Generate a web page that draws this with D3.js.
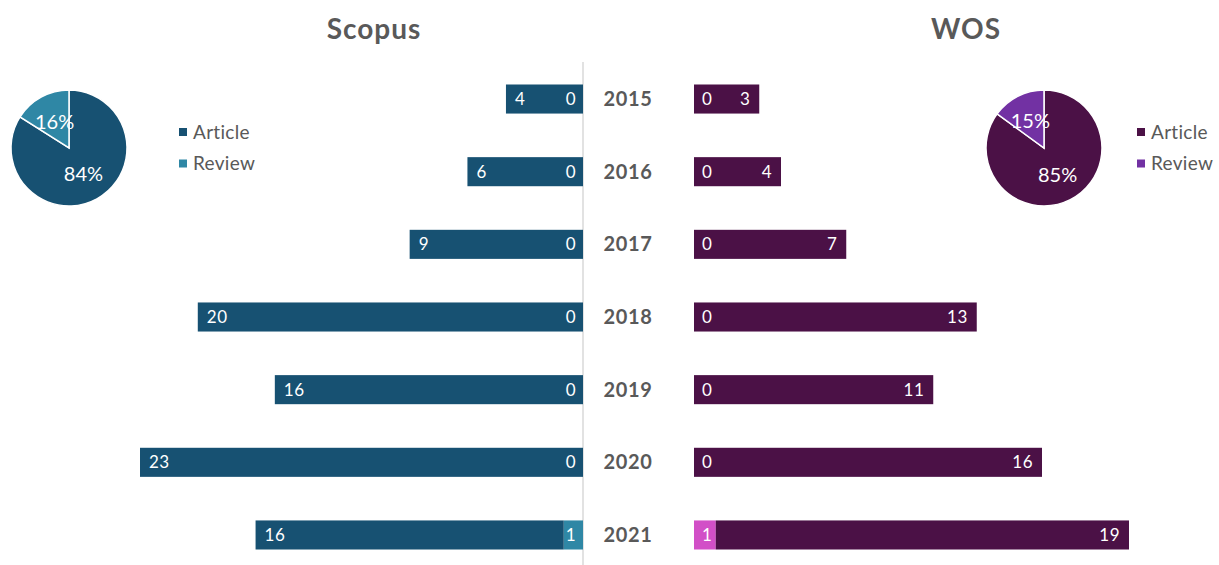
<!DOCTYPE html>
<html>
<head>
<meta charset="utf-8">
<script src="https://cdn.jsdelivr.net/npm/d3@7"></script>
<style>
  body { margin: 0; background: #fff; }
  svg { display: block; font-family: "Century Gothic", Lato, "Noto Sans", sans-serif; }
</style>
</head>
<body>
<div id="chart"></div>
<script>
// data
const years = ["2015", "2016", "2017", "2018", "2019", "2020", "2021"];
const scopusArticle = [4, 6, 9, 20, 16, 23, 16];
const scopusReview = [0, 0, 0, 0, 0, 0, 1];
const wosArticle = [3, 4, 7, 13, 11, 16, 19];
const wosReview = [0, 0, 0, 0, 0, 0, 1];
const pieTypes = ["Article", "Review"];
const scopusPie = [84, 16];
const wosPie = [85, 15];

const width = 1219, height = 565;
const gray = "#595959";
const colors = {
  scopusArticle: "#175172",
  scopusReview: "#2f87a5",
  wosArticle: "#4b1146",
  wosReview: "#d24fc7",
  wosPieReview: "#7231a3"
};

const svg = d3.select("#chart").append("svg")
    .attr("width", width)
    .attr("height", height);

// scales
const y = d3.scaleBand()
    .domain(years)
    .range([62.7, 571.3])
    .paddingInner(0.6)
    .paddingOuter(0.3);

const xLeft = d3.scaleLinear().domain([0, 23]).range([583, 140]);
const xRight = d3.scaleLinear().domain([0, 20]).range([694, 1129]);

// titles
svg.append("text")
    .attr("x", 374).attr("y", 39)
    .attr("text-anchor", "middle")
    .style("font-size", "28px").style("font-weight", "bold")
    .style("letter-spacing", "1px")
    .style("fill", gray)
    .text("Scopus");

svg.append("text")
    .attr("x", 966).attr("y", 39)
    .attr("text-anchor", "middle")
    .style("font-size", "28px").style("font-weight", "bold")
    .style("letter-spacing", "1px")
    .style("fill", gray)
    .text("WOS");

// centre line
svg.append("line")
    .attr("x1", xLeft(0)).attr("x2", xLeft(0))
    .attr("y1", 62).attr("y2", height)
    .style("stroke", "#d9d9d9").style("stroke-width", 1.5);

// year labels
svg.selectAll(".year")
    .data(years)
  .enter().append("text")
    .attr("class", "year")
    .attr("x", 628)
    .attr("y", d => y(d) + y.bandwidth() / 2)
    .attr("dy", "0.35em")
    .attr("text-anchor", "middle")
    .style("font-size", "20px").style("font-weight", "bold")
    .style("letter-spacing", "0.6px")
    .style("fill", gray)
    .text(d => d);

const rows = years.map((yr, i) => ({
  year: yr,
  sa: scopusArticle[i], sr: scopusReview[i],
  wa: wosArticle[i], wr: wosReview[i]
}));

const labelStyle = sel => sel
    .attr("dy", "0.35em")
    .style("font-size", "17px")
    .style("letter-spacing", "0.5px")
    .style("fill", "#fff");

// Scopus bars (review next to the axis, article stacked outward)
const left = svg.append("g");
left.selectAll(".sr")
    .data(rows)
  .enter().append("rect")
    .attr("x", d => xLeft(d.sr))
    .attr("y", d => y(d.year))
    .attr("width", d => xLeft(0) - xLeft(d.sr))
    .attr("height", y.bandwidth())
    .style("fill", colors.scopusReview);

left.selectAll(".sa")
    .data(rows)
  .enter().append("rect")
    .attr("x", d => xLeft(d.sr + d.sa))
    .attr("y", d => y(d.year))
    .attr("width", d => xLeft(d.sr) - xLeft(d.sr + d.sa))
    .attr("height", y.bandwidth())
    .style("fill", colors.scopusArticle);

left.selectAll(".saLabel")
    .data(rows)
  .enter().append("text")
    .attr("x", d => xLeft(d.sr + d.sa) + 9)
    .attr("y", d => y(d.year) + y.bandwidth() / 2)
    .attr("text-anchor", "start")
    .call(labelStyle)
    .text(d => d.sa);

left.selectAll(".srLabel")
    .data(rows)
  .enter().append("text")
    .attr("x", xLeft(0) - 7)
    .attr("y", d => y(d.year) + y.bandwidth() / 2)
    .attr("text-anchor", "end")
    .call(labelStyle)
    .text(d => d.sr);

// WOS bars
const right = svg.append("g");
right.selectAll(".wr")
    .data(rows)
  .enter().append("rect")
    .attr("x", xRight(0))
    .attr("y", d => y(d.year))
    .attr("width", d => xRight(d.wr) - xRight(0))
    .attr("height", y.bandwidth())
    .style("fill", colors.wosReview);

right.selectAll(".wa")
    .data(rows)
  .enter().append("rect")
    .attr("x", d => xRight(d.wr))
    .attr("y", d => y(d.year))
    .attr("width", d => xRight(d.wr + d.wa) - xRight(d.wr))
    .attr("height", y.bandwidth())
    .style("fill", colors.wosArticle);

right.selectAll(".waLabel")
    .data(rows)
  .enter().append("text")
    .attr("x", d => xRight(d.wr + d.wa) - 9)
    .attr("y", d => y(d.year) + y.bandwidth() / 2)
    .attr("text-anchor", "end")
    .call(labelStyle)
    .text(d => d.wa);

right.selectAll(".wrLabel")
    .data(rows)
  .enter().append("text")
    .attr("x", xRight(0) + 8)
    .attr("y", d => y(d.year) + y.bandwidth() / 2)
    .attr("text-anchor", "start")
    .call(labelStyle)
    .text(d => d.wr);

// pies with legends
function pieChart(cx, cy, values, cols, legendX) {
  const g = svg.append("g").attr("transform", "translate(" + cx + "," + cy + ")");
  const pie = d3.pie().sort(null)(values);
  const arc = d3.arc().innerRadius(0).outerRadius(58);
  const labelArc = d3.arc().innerRadius(30).outerRadius(30);

  g.selectAll("path")
      .data(pie)
    .enter().append("path")
      .attr("d", arc)
      .style("fill", (d, i) => cols[i])
      .style("stroke", "#fff")
      .style("stroke-width", 1.5);

  g.selectAll("text")
      .data(pie)
    .enter().append("text")
      .attr("transform", d => "translate(" + labelArc.centroid(d) + ")")
      .attr("dy", "0.35em")
      .attr("text-anchor", "middle")
      .style("font-size", "20px")
      .style("fill", "#fff")
      .text(d => d.data + "%");

  const leg = svg.append("g");
  pieTypes.forEach((t, i) => {
    const ly = 132 + i * 31.5;
    leg.append("rect")
        .attr("x", legendX).attr("y", ly - 4)
        .attr("width", 8).attr("height", 8)
        .style("fill", cols[i]);
    leg.append("text")
        .attr("x", legendX + 14).attr("y", ly)
        .attr("dy", "0.35em")
        .style("font-size", "19px")
        .style("letter-spacing", "0.3px")
        .style("fill", gray)
        .text(t);
  });
}

pieChart(69, 148, scopusPie, [colors.scopusArticle, colors.scopusReview], 179);
pieChart(1044, 148, wosPie, [colors.wosArticle, colors.wosPieReview], 1137);
</script>
</body>
</html>
